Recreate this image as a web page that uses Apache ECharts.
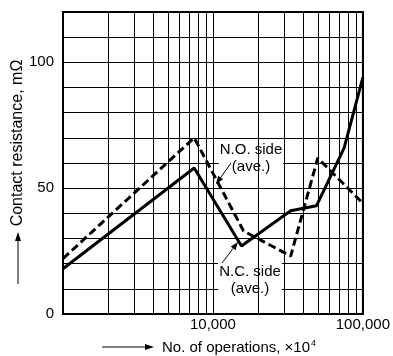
<!DOCTYPE html>
<html>
<head>
<meta charset="utf-8">
<script src="https://cdn.jsdelivr.net/npm/echarts@6/dist/echarts.min.js"></script>
<style>
  html, body { margin: 0; padding: 0; background: #fff; }
  #chart { width: 393px; height: 356px; }
</style>
</head>
<body>
<div id="chart"></div>
<script>
// operations (x10^4) and contact resistance (mOhm)
const ncOperations = [1000, 7500, 15500, 33000, 49000, 75000, 100000]
const ncResistance = [18, 58, 27, 41, 43, 66, 94]

const noOperations = [1000, 7500, 16000, 33000, 50000, 100000]
const noResistance = [22, 70, 33, 23, 62, 44]

const xTickLabels = { 10000: '10,000', 100000: '100,000' }
const yTickLabels = [0, 50, 100]
const minorGridX = [2000, 3000, 4000, 5000, 6000, 7000, 8000, 9000,
  20000, 30000, 40000, 50000, 60000, 70000, 80000, 90000]

const font = 'Liberation Sans'

function zip(xs, ys) {
  return xs.map((x, i) => [x, ys[i]])
}

// line with a filled arrow head at (x2, y2)
function arrow(x1, y1, x2, y2, len, half) {
  const dx = x2 - x1
  const dy = y2 - y1
  const d = Math.sqrt(dx * dx + dy * dy)
  const ux = dx / d
  const uy = dy / d
  const bx = x2 - ux * len
  const by = y2 - uy * len
  return [
    {
      type: 'line',
      z: 5,
      shape: { x1: x1, y1: y1, x2: bx, y2: by },
      style: { stroke: '#000', lineWidth: 1 }
    },
    {
      type: 'polygon',
      z: 5,
      shape: {
        points: [[x2, y2], [bx - uy * half, by + ux * half], [bx + uy * half, by - ux * half]]
      },
      style: { fill: '#000' }
    }
  ]
}

function note(x, y, text) {
  return {
    type: 'text',
    z: 5,
    x: x,
    y: y,
    style: {
      text: text,
      font: '15px "' + font + '"',
      fill: '#000',
      align: 'center',
      verticalAlign: 'middle',
      lineHeight: 17,
      backgroundColor: '#fff',
      padding: [0, 1]
    }
  }
}

const chart = echarts.init(document.getElementById('chart'))

chart.setOption({
  animation: false,
  textStyle: { fontFamily: font },
  grid: {
    left: 63,
    top: 12,
    width: 303,
    height: 302,
    show: true,
    borderColor: '#000',
    borderWidth: 2
  },
  xAxis: {
    type: 'log',
    logBase: 10,
    min: 1000,
    max: 100000,
    axisLine: { lineStyle: { color: '#000', width: 2 } },
    axisTick: { show: false },
    axisLabel: {
      color: '#000',
      fontSize: 15,
      margin: 3,
      formatter: (v) => xTickLabels[Math.round(v)] || ''
    },
    splitLine: { show: true, lineStyle: { color: '#000', width: 1 } }
  },
  yAxis: {
    type: 'value',
    min: 0,
    max: 120,
    interval: 10,
    axisLine: { lineStyle: { color: '#000', width: 2 } },
    axisTick: { show: false },
    axisLabel: {
      color: '#000',
      fontSize: 15,
      margin: 9,
      formatter: (v) => (yTickLabels.includes(v) ? String(v) : '')
    },
    splitLine: { show: true, lineStyle: { color: '#000', width: 1 } }
  },
  series: [
    {
      name: 'minor grid',
      type: 'line',
      data: [],
      z: 1,
      silent: true,
      markLine: {
        silent: true,
        symbol: 'none',
        label: { show: false },
        lineStyle: { color: '#000', width: 1, type: 'solid' },
        data: minorGridX.map((v) => ({ xAxis: v }))
      }
    },
    {
      name: 'N.O. side (ave.)',
      type: 'line',
      z: 10,
      data: zip(noOperations, noResistance),
      symbol: 'none',
      lineStyle: { color: '#000', width: 3, type: [8, 4] }
    },
    {
      name: 'N.C. side (ave.)',
      type: 'line',
      z: 10,
      data: zip(ncOperations, ncResistance),
      symbol: 'none',
      lineStyle: { color: '#000', width: 3 }
    }
  ],
  graphic: [
    note(251, 158, 'N.O. side\n(ave.)'),
    ...arrow(231, 163, 216, 184, 8, 3),
    note(250, 280, 'N.C. side\n(ave.)'),
    ...arrow(222, 263, 238, 242, 8, 3),
    {
      type: 'text',
      x: 18,
      y: 143,
      rotation: Math.PI / 2,
      style: {
        text: 'Contact resistance, mΩ',
        font: '16px "' + font + '"',
        fill: '#000',
        align: 'center',
        verticalAlign: 'middle'
      }
    },
    ...arrow(18, 284, 18, 232, 9, 3),
    ...arrow(102, 347, 154, 347, 9, 3),
    {
      type: 'text',
      x: 162,
      y: 348,
      style: {
        rich: {
          base: { fontSize: 15, fontFamily: font, color: '#000', lineHeight: 18 },
          sup: { fontSize: 9, fontFamily: font, color: '#000', lineHeight: 9, verticalAlign: 'top', padding: [0, 0, 0, 1] }
        },
        text: '{base|No. of operations, ×10}{sup|4}',
        verticalAlign: 'middle'
      }
    }
  ]
})
</script>
</body>
</html>
